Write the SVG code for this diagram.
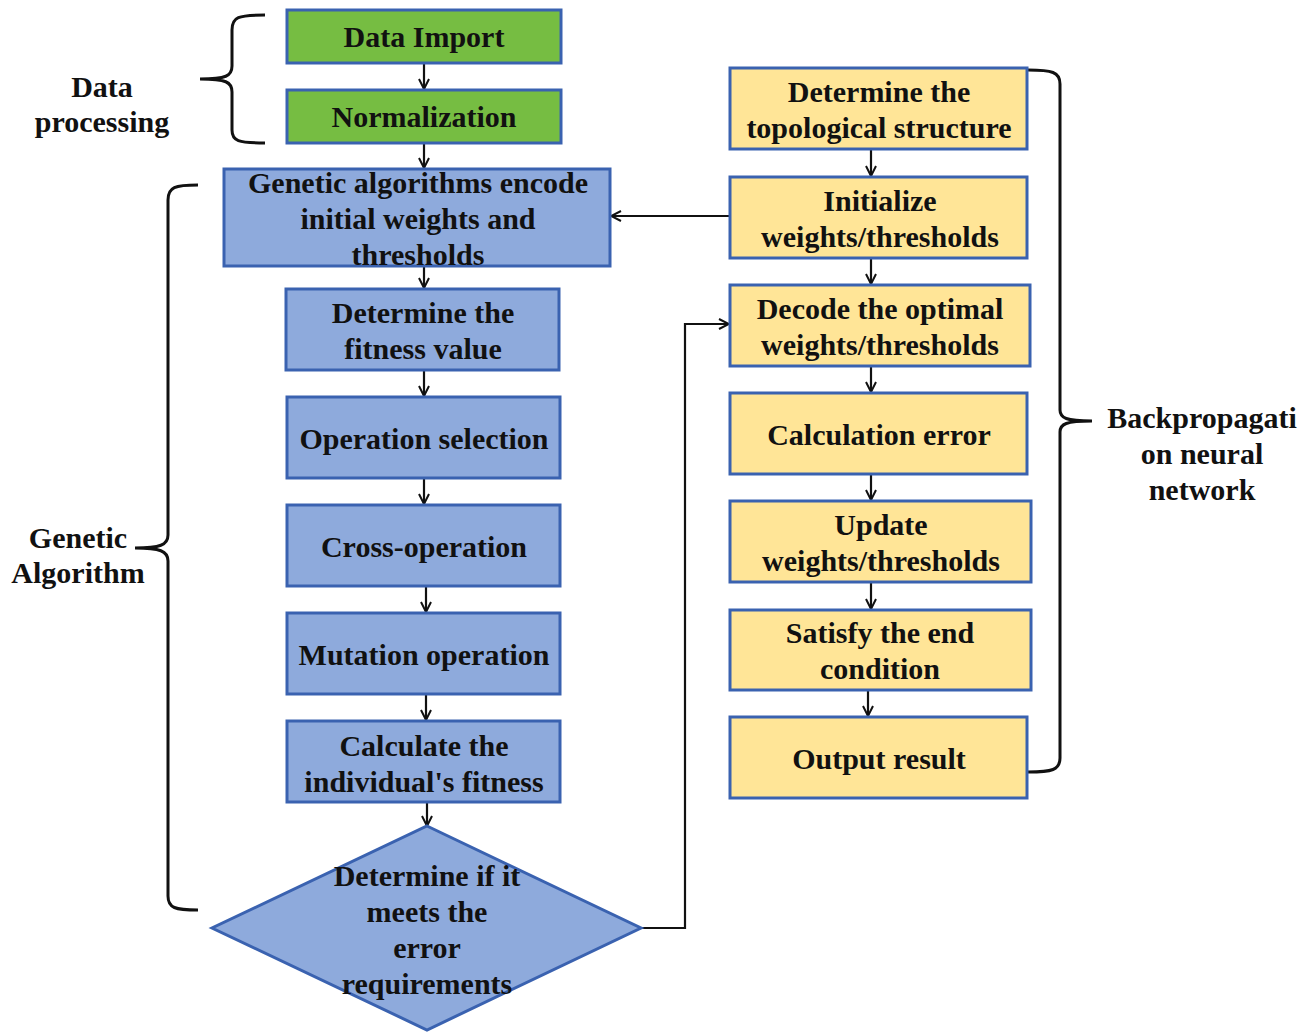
<svg xmlns="http://www.w3.org/2000/svg" width="1314" height="1033" viewBox="0 0 1314 1033" font-family="'Liberation Serif', 'Times New Roman', Times, serif">
<style>
text{font-weight:700;font-size:30px;fill:#111;text-anchor:middle}
.g{fill:#76bd42;stroke:#3a62b0;stroke-width:3}
.b{fill:#8eaadc;stroke:#3a62b0;stroke-width:3}
.y{fill:#ffe597;stroke:#3a62b0;stroke-width:3}
.c{fill:none;stroke:#111;stroke-width:2.2}
.br{fill:none;stroke:#111;stroke-width:3}
</style>
<defs>
<marker id="a" viewBox="0 0 12 12" refX="11" refY="6" markerWidth="12" markerHeight="12" markerUnits="userSpaceOnUse" orient="auto">
<polyline points="1,1 11,6 1,11" fill="none" stroke="#111" stroke-width="2"/>
</marker>
</defs>
<g id="connectors">
<line class="c" x1="424" y1="63" x2="424" y2="89" marker-end="url(#a)"/>
<line class="c" x1="424" y1="143" x2="424" y2="168" marker-end="url(#a)"/>
<line class="c" x1="424" y1="250" x2="424" y2="288" marker-end="url(#a)"/>
<line class="c" x1="424" y1="370" x2="424" y2="396" marker-end="url(#a)"/>
<line class="c" x1="424" y1="478" x2="424" y2="504" marker-end="url(#a)"/>
<line class="c" x1="426" y1="586" x2="426" y2="612" marker-end="url(#a)"/>
<line class="c" x1="426" y1="694" x2="426" y2="720" marker-end="url(#a)"/>
<line class="c" x1="427" y1="802" x2="427" y2="826" marker-end="url(#a)"/>
<line class="c" x1="871" y1="149" x2="871" y2="176" marker-end="url(#a)"/>
<line class="c" x1="871" y1="258" x2="871" y2="284" marker-end="url(#a)"/>
<line class="c" x1="871" y1="366" x2="871" y2="392" marker-end="url(#a)"/>
<line class="c" x1="871" y1="474" x2="871" y2="500" marker-end="url(#a)"/>
<line class="c" x1="871" y1="582" x2="871" y2="609" marker-end="url(#a)"/>
<line class="c" x1="868" y1="690" x2="868" y2="716" marker-end="url(#a)"/>
<line class="c" x1="730" y1="216" x2="611" y2="216" marker-end="url(#a)"/>
<polyline class="c" points="641,928 685,928 685,324 729,324" marker-end="url(#a)"/>
</g>
<g id="brace-data">
<path class="br" d="M265,15 C238,15 232,17 232,30 L232,66 C232,76 226,79 200,79 C226,79 232,82 232,92 L232,130 C232,141 238,143 265,143"/>
<text x="102" y="97">Data</text>
<text x="102" y="132">processing</text>
</g>
<g id="brace-ga">
<path class="br" d="M198,185 C175,185 168,187 168,200 L168,535 C168,545 160,548 135,548 C160,548 168,551 168,561 L168,896 C168,908 175,910 198,910"/>
<text x="78" y="548">Genetic</text>
<text x="78" y="583">Algorithm</text>
</g>
<g id="brace-bp">
<path class="br" d="M1028,70 C1052,70 1060,72 1060,84 L1060,410 C1060,418 1066,421 1092,421 C1066,421 1060,424 1060,432 L1060,758 C1060,770 1052,772 1028,772"/>
<text x="1202" y="428">Backpropagati</text>
<text x="1202" y="464">on neural</text>
<text x="1202" y="500">network</text>
</g>
<g id="n-import"><rect class="g" x="287" y="10" width="274" height="53"/><text x="424" y="47">Data Import</text></g>
<g id="n-norm"><rect class="g" x="287" y="90" width="274" height="53"/><text x="424" y="127">Normalization</text></g>
<g id="n-encode"><rect class="b" x="224" y="169" width="386" height="97"/><text x="418" y="193">Genetic algorithms encode</text><text x="418" y="229">initial weights and</text><text x="418" y="265">thresholds</text></g>
<g id="n-fitness"><rect class="b" x="286" y="289" width="273" height="81"/><text x="423" y="323">Determine the</text><text x="423" y="359">fitness value</text></g>
<g id="n-select"><rect class="b" x="287" y="397" width="273" height="81"/><text x="424" y="449">Operation selection</text></g>
<g id="n-cross"><rect class="b" x="287" y="505" width="273" height="81"/><text x="424" y="557">Cross-operation</text></g>
<g id="n-mut"><rect class="b" x="287" y="613" width="273" height="81"/><text x="424" y="665">Mutation operation</text></g>
<g id="n-calc"><rect class="b" x="287" y="721" width="273" height="81"/><text x="424" y="756">Calculate the</text><text x="424" y="792">individual's fitness</text></g>
<g id="n-decide"><polygon class="b" points="427,826 641,928 427,1030 212,928"/><text x="427" y="886">Determine if it</text><text x="427" y="922">meets the</text><text x="427" y="958">error</text><text x="427" y="994">requirements</text></g>
<g id="n-topo"><rect class="y" x="730" y="68" width="297" height="81"/><text x="879" y="102">Determine the</text><text x="879" y="138">topological structure</text></g>
<g id="n-init"><rect class="y" x="730" y="177" width="297" height="81"/><text x="880" y="211">Initialize</text><text x="880" y="247">weights/thresholds</text></g>
<g id="n-decode"><rect class="y" x="730" y="285" width="300" height="81"/><text x="880" y="319">Decode the optimal</text><text x="880" y="355">weights/thresholds</text></g>
<g id="n-error"><rect class="y" x="730" y="393" width="297" height="81"/><text x="879" y="445">Calculation error</text></g>
<g id="n-update"><rect class="y" x="730" y="501" width="301" height="81"/><text x="881" y="535">Update</text><text x="881" y="571">weights/thresholds</text></g>
<g id="n-satisfy"><rect class="y" x="730" y="610" width="301" height="80"/><text x="880" y="643">Satisfy the end</text><text x="880" y="679">condition</text></g>
<g id="n-output"><rect class="y" x="730" y="717" width="297" height="81"/><text x="879" y="769">Output result</text></g>
</svg>
